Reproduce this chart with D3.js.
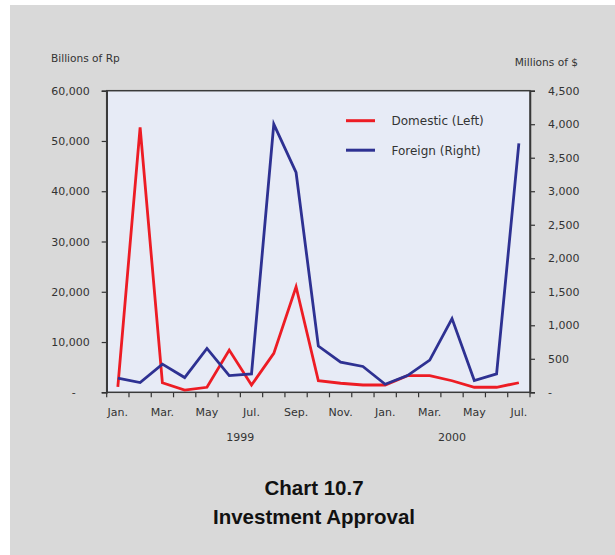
<!DOCTYPE html>
<html><head><meta charset="utf-8">
<script src="https://cdn.jsdelivr.net/npm/d3@7"></script>
<style>html,body{margin:0;padding:0;background:#fff;}svg{display:block;}</style>
</head><body>
<script>
const months = ["Jan.","Feb.","Mar.","Apr.","May","Jun.","Jul.","Aug.","Sep.","Oct.","Nov.","Dec.",
                "Jan.","Feb.","Mar.","Apr.","May","Jun.","Jul."];
const monthLabels = ["Jan.","","Mar.","","May","","Jul.","","Sep.","","Nov.","","Jan.","","Mar.","","May","","Jul."];
const domestic = [1100,52700,1900,450,1000,8400,1450,7750,21000,2300,1800,1450,1450,3300,3300,2300,1000,1000,1900];
const foreign  = [210,145,420,220,655,250,275,4000,3280,690,450,385,120,250,480,1100,175,275,3715];
const leftTicks = [0,10000,20000,30000,40000,50000,60000];
const rightTicks = [0,500,1000,1500,2000,2500,3000,3500,4000,4500];
const years = [{label:"1999", from:0, to:11},{label:"2000", from:12, to:18}];
const seriesNames = ["Domestic (Left)","Foreign (Right)"];
const colors = ["#ed1c24","#2e3192"];

const W=615,H=555;
const svg=d3.select("body").append("svg").attr("width",W).attr("height",H);
svg.append("rect").attr("x",0).attr("y",0).attr("width",W).attr("height",H).attr("fill","#fff");
svg.append("rect").attr("x",10).attr("y",5).attr("width",W-10).attr("height",H-5).attr("fill","#d9d9d9");

const L=106.7,R=530,T=90.7,B=392.3;
const x=d3.scaleBand().domain(d3.range(months.length)).range([L,R]).padding(0);
const yL=d3.scaleLinear().domain([0,60000]).range([B,T]);
const yR=d3.scaleLinear().domain([0,4500]).range([B,T]);
const font="DejaVu Sans";
const fmt=d=>d===0?"-":d3.format(",")(d);

svg.append("rect").attr("x",L).attr("y",T).attr("width",R-L).attr("height",B-T).attr("fill","#e7ebf6");

// left axis
const gl=svg.append("g").attr("transform",`translate(${L},0)`)
  .call(d3.axisLeft(yL).tickValues(leftTicks).tickFormat(fmt).tickSize(5).tickPadding(12));
gl.selectAll("text").attr("font-family",font).attr("font-size",11).attr("fill","#333");
gl.select(".tick:first-of-type text").attr("dx",-14);
// right axis
const gr=svg.append("g").attr("transform",`translate(${R},0)`)
  .call(d3.axisRight(yR).tickValues(rightTicks).tickFormat(fmt).tickSize(5).tickPadding(13));
gr.selectAll("text").attr("font-family",font).attr("font-size",11).attr("fill","#333");
// bottom axis
const gb=svg.append("g").attr("transform",`translate(0,${B})`)
  .call(d3.axisBottom(x).tickValues(d3.range(months.length)).tickFormat(i=>monthLabels[i]).tickSize(0).tickPadding(16));
gb.selectAll("text").attr("font-family",font).attr("font-size",11).attr("fill","#333");
// x tick marks at band boundaries
svg.append("g").selectAll("line").data(d3.range(months.length+1)).join("line")
  .attr("x1",i=>L+i*x.step()).attr("x2",i=>L+i*x.step())
  .attr("y1",B).attr("y2",B+5).attr("stroke","#333").attr("stroke-width",1.2);
[gl,gr,gb].forEach(g=>{g.select(".domain").attr("stroke","#333").attr("stroke-width",1.5);g.selectAll(".tick line").attr("stroke","#333").attr("stroke-width",1.2);});
gb.select(".domain").remove();
// frame
svg.append("rect").attr("x",L).attr("y",T).attr("width",R-L).attr("height",B-T).attr("fill","none").attr("stroke","#3a3a3a").attr("stroke-width",1.5);

// year labels
svg.append("g").selectAll("text").data(years).join("text")
  .attr("x",d=>(x(d.from)+x(d.to))/2+x.bandwidth()/2).attr("y",441)
  .attr("text-anchor","middle").attr("font-family",font).attr("font-size",11).attr("fill","#333")
  .text(d=>d.label);

// lines
const lineL=d3.line().x((d,i)=>x(i)+x.bandwidth()/2).y(d=>yL(d));
const lineR=d3.line().x((d,i)=>x(i)+x.bandwidth()/2).y(d=>yR(d));
svg.append("path").datum(domestic).attr("d",lineL).attr("fill","none").attr("stroke",colors[0]).attr("stroke-width",2.8).attr("stroke-linejoin","miter");
svg.append("path").datum(foreign).attr("d",lineR).attr("fill","none").attr("stroke",colors[1]).attr("stroke-width",2.8).attr("stroke-linejoin","miter");

// axis titles
svg.append("text").attr("x",51).attr("y",62).attr("font-family",font).attr("font-size",10.6).attr("fill","#333").text("Billions of Rp");
svg.append("text").attr("x",578).attr("y",66).attr("text-anchor","end").attr("font-family",font).attr("font-size",10.6).attr("fill","#333").text("Millions of $");

// legend
const lg=svg.append("g");
seriesNames.forEach((n,i)=>{
  const yy=120.7+i*29.5;
  lg.append("line").attr("x1",346).attr("x2",375).attr("y1",yy).attr("y2",yy).attr("stroke",colors[i]).attr("stroke-width",3);
  lg.append("text").attr("x",391.5).attr("y",yy+4.3).attr("font-family",font).attr("font-size",12).attr("fill","#333").text(n);
});

// title
svg.append("text").attr("x",314).attr("y",495).attr("text-anchor","middle").attr("font-family","Liberation Sans, Arial").attr("font-weight","bold").attr("font-size",20.5).attr("fill","#111").text("Chart 10.7");
svg.append("text").attr("x",314).attr("y",524).attr("text-anchor","middle").attr("font-family","Liberation Sans, Arial").attr("font-weight","bold").attr("font-size",20.5).attr("fill","#111").text("Investment Approval");
</script>
</body></html>
